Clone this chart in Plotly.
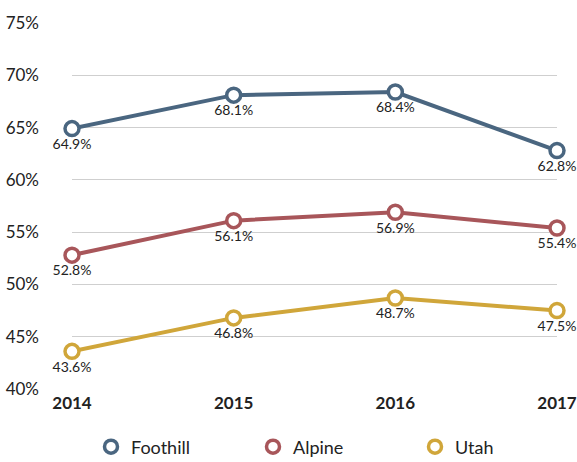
import plotly.graph_objects as go

years = [2014, 2015, 2016, 2017]
foothill = [64.9, 68.1, 68.4, 62.8]
alpine = [52.8, 56.1, 56.9, 55.4]
utah = [43.6, 46.8, 48.7, 47.5]
series_names = ["Foothill", "Alpine", "Utah"]
colors = ["#4A6680", "#A8565A", "#D0A63A"]
y_ticks = [40, 45, 50, 55, 60, 65, 70, 75]

fig = go.Figure()
for name, vals, col in zip(series_names, [foothill, alpine, utah], colors):
    fig.add_trace(go.Scatter(
        x=years, y=vals, mode="lines+markers+text", name=name,
        line=dict(color=col, width=4),
        marker=dict(symbol="circle", size=14, color="white", line=dict(color=col, width=3.5)),
        text=[f"{v:.1f}%" for v in vals], textposition="bottom center",
        textfont=dict(family="Lato", size=14, color="#222"),
        cliponaxis=False, showlegend=False,
    ))
    fig.add_trace(go.Scatter(
        x=[None], y=[None], mode="markers", name=name,
        marker=dict(symbol="circle", size=13, color="white", line=dict(color=col, width=3.5)),
        showlegend=True,
    ))

fig.update_layout(
    width=577, height=462,
    margin=dict(l=72, r=20, t=23, b=73),
    plot_bgcolor="white", paper_bgcolor="white",
    font=dict(family="Lato", color="#222"),
    xaxis=dict(range=[2014, 2017], tickvals=years, ticktext=[str(y) for y in years],
               showgrid=False, zeroline=False, showline=False, automargin=False,
               tickfont=dict(size=17, family="Lato", weight="bold"), ticklabelstandoff=2),
    yaxis=dict(range=[40, 75], tickvals=y_ticks, ticktext=[f"{t}%" for t in y_ticks],
               showgrid=True, gridcolor="#CFCFCF", gridwidth=1, zeroline=False, showline=False,
               automargin=False,
               tickfont=dict(size=17, family="Lato"), ticklabelstandoff=32),
    legend=dict(orientation="h", xref="paper", x=0.043, xanchor="left",
                yref="container", y=1 - 447 / 462, yanchor="middle",
                font=dict(size=18, family="Lato"), entrywidth=117),
)
fig.write_html("out.html", config={"displayModeBar": False},
               post_script="document.body.style.margin='0';document.body.style.overflow='hidden';")
